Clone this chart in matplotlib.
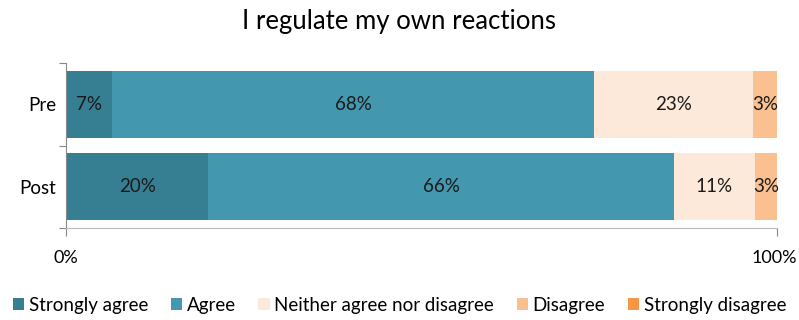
import matplotlib
matplotlib.use("Agg")
import matplotlib.pyplot as plt
import matplotlib.transforms as mtransforms
import numpy as np

plt.rcParams['font.family'] = ['Lato', 'DejaVu Sans']

categories = ["Pre", "Post"]
series_names = ["Strongly agree", "Agree", "Neither agree nor disagree", "Disagree", "Strongly disagree"]
strongly_agree = [6.5, 20.0]
agree = [67.8, 65.5]
neither = [22.3, 11.4]
disagree = [3.4, 3.1]
strongly_disagree = [0.0, 0.0]
labels_pre = ["7%", "68%", "23%", "3%", ""]
labels_post = ["20%", "66%", "11%", "3%", ""]
colors = ["#367F93", "#4398B0", "#FDE9D9", "#FAC090", "#F79646"]

values = [strongly_agree, agree, neither, disagree, strongly_disagree]
labels = [[labels_pre[i], labels_post[i]] for i in range(5)]

FS = 13.5

fig = plt.figure(figsize=(7.99, 3.2), dpi=100)
ax = fig.add_axes([66/799, 1 - 228/320, (777-66)/799, (228-63)/320])

y = np.arange(len(categories))
left = np.zeros(len(categories))
for vals, name, col, labs in zip(values, series_names, colors, labels):
    vals = np.array(vals)
    ax.barh(y, vals, left=left, height=0.81, color=col, label=name)
    for i, (v, l) in enumerate(zip(vals, labs)):
        if l:
            ax.text(left[i] + v / 2, y[i], l, ha='center', va='center', fontsize=FS, color='#1a1a1a')
    left += vals

ax.set_xlim(0, 100)
ax.set_ylim(1.5, -0.5)
ax.set_yticks([-0.5, 0.5, 1.5], minor=False)
ax.set_yticklabels([])
ax.set_yticks(y, minor=True)
ax.set_yticklabels(categories, minor=True, fontsize=FS)
ax.tick_params(axis='y', which='minor', length=0, pad=7)
ax.tick_params(axis='y', which='major', length=5, color='#888888')
ax.set_xticks([0, 100])
ax.set_xticklabels(["0%", "100%"], fontsize=13)
ax.tick_params(axis='x', length=6, color='#888888', pad=10)
# nudge the 100% label slightly left so it stays inside the figure
lab100 = ax.get_xticklabels()[1]
lab100.set_transform(lab100.get_transform() + mtransforms.ScaledTranslation(-3/100, 0, fig.dpi_scale_trans))
for s in ['top', 'right']:
    ax.spines[s].set_visible(False)
ax.spines['left'].set_color('#888888')
ax.spines['bottom'].set_color('#bbbbbb')

fig.text(0.5, 1 - 22/320, "I regulate my own reactions", ha='center', va='center', fontsize=18.5)

handles, lbls = ax.get_legend_handles_labels()
fig.legend(handles, lbls, loc='center', bbox_to_anchor=(0.5, 1 - 305/320), ncol=5, frameon=False,
           fontsize=FS, handlelength=0.6, handleheight=0.6, handletextpad=0.25, columnspacing=1.2)

fig.savefig("out.png", dpi=100)
